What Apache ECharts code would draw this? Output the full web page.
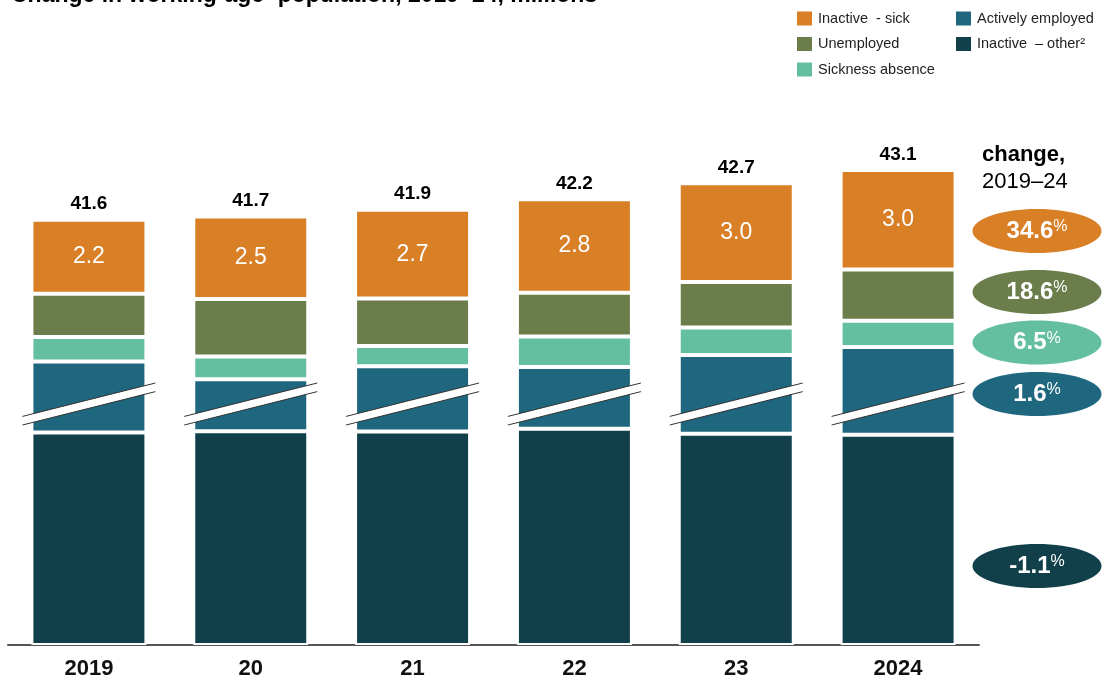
<!DOCTYPE html>
<html><head><meta charset="utf-8">
<script src="https://cdn.jsdelivr.net/npm/echarts@6/dist/echarts.min.js"></script>
<style>html,body{margin:0;padding:0;background:#fff}#c{width:1102px;height:682px}</style>
</head><body><div id="c"></div>
<script>
// ---- data ----
const years = ['2019', '20', '21', '22', '23', '2024'];
const inactiveSick = [2.23, 2.49, 2.68, 2.82, 2.98, 3.0];
const unemployed = [1.31, 1.74, 1.43, 1.32, 1.37, 1.55];
const sicknessAbsence = [0.74, 0.68, 0.61, 0.92, 0.83, 0.79];
const activelyEmployed = [30.91, 30.34, 30.74, 30.64, 31.15, 31.42];
const inactiveOther = [6.41, 6.45, 6.44, 6.52, 6.37, 6.34];
const changeLabels = ['34.6', '18.6', '6.5', '1.6', '-1.1'];
const seriesNames = ['Inactive  - sick', 'Unemployed', 'Sickness absence', 'Actively employed', 'Inactive  – other²'];
const breakStart = 7.27, breakEnd = 36.04;

// ---- styles ----
const C = { orange: '#D97F26', green: '#6A7D4B', teal: '#64BFA1', blue: '#1F677F', dark: '#11404B' };
const FONT = '"Liberation Sans", Arial, sans-serif';
const BW = 115;
const totals = years.map((_, i) => inactiveSick[i] + unemployed[i] + sicknessAbsence[i] + activelyEmployed[i] + inactiveOther[i]);

function barSeries(name, data, color, extra) {
  return Object.assign({
    name, type: 'bar', stack: 'pop', data, barWidth: BW,
    itemStyle: { color, borderColor: '#fff', borderWidth: 2 },
    emphasis: { disabled: true }
  }, extra || {});
}

const ellipseY = [231, 292, 342.5, 394, 566];
const ellipseColors = [C.orange, C.green, C.teal, C.blue, C.dark];
const graphics = [];
changeLabels.forEach((t, i) => {
  graphics.push({ type: 'ellipse', shape: { cx: 1037, cy: ellipseY[i], rx: 64.5, ry: 22 }, style: { fill: ellipseColors[i] }, silent: true });
  graphics.push({ type: 'text', x: 1037, y: ellipseY[i], silent: true, style: {
    text: '{n|' + t + '}{p|%}', align: 'center', verticalAlign: 'middle',
    rich: {
      n: { fontFamily: FONT, fontSize: 24, fontWeight: 'bold', fill: '#fff' },
      p: { fontFamily: FONT, fontSize: 16, fill: '#fff', verticalAlign: 'top' }
    }
  }});
});
graphics.push({ type: 'text', x: 982, y: 155, style: { text: 'change,', fontFamily: FONT, fontSize: 22, fontWeight: 'bold', fill: '#000', verticalAlign: 'middle' } });
graphics.push({ type: 'text', x: 982, y: 182, style: { text: '2019–24', fontFamily: FONT, fontSize: 22, fill: '#000', verticalAlign: 'middle' } });

const legendCommon = {
  orient: 'vertical', top: 11, padding: 0, itemWidth: 15, itemHeight: 14, itemGap: 10.5, icon: 'rect', selectedMode: false,
  itemStyle: { borderWidth: 0 },
  textStyle: { fontFamily: FONT, fontSize: 14.5, color: '#222', padding: [0, 0, 0, 1] }
};

const chart = echarts.init(document.getElementById('c'));
chart.setOption({
  animation: false,
  backgroundColor: '#fff',
  textStyle: { fontFamily: FONT },
  title: {
    left: 11, top: -16, padding: 0,
    text: '{b|Change in working-age}{s|1}{b| population}{r|, 2019–24, millions}',
    textStyle: { rich: {
      b: { fontFamily: FONT, fontSize: 23, fontWeight: 'bold', color: '#000' },
      s: { fontFamily: FONT, fontSize: 13, fontWeight: 'bold', color: '#000', verticalAlign: 'top' },
      r: { fontFamily: FONT, fontSize: 23, color: '#000' }
    } }
  },
  legend: [
    Object.assign({ data: seriesNames.slice(0, 3), left: 797 }, legendCommon),
    Object.assign({ data: seriesNames.slice(3), left: 956 }, legendCommon)
  ],
  grid: { left: 8, right: 123, top: 107, bottom: 37 },
  xAxis: {
    type: 'category', data: years,
    axisLine: { lineStyle: { color: '#555', width: 2 } },
    axisTick: { show: false },
    axisLabel: { fontFamily: FONT, fontSize: 22, fontWeight: 'bold', color: '#111', margin: 13 }
  },
  yAxis: {
    type: 'value', min: 0, max: 45,
    axisLine: { show: false }, axisTick: { show: false }, axisLabel: { show: false }, splitLine: { show: false },
    breaks: [{ start: breakStart, end: breakEnd, gap: 0 }],
    breakArea: { show: false }
  },
  graphic: graphics,
  series: [
    barSeries(seriesNames[4], inactiveOther, C.dark),
    barSeries(seriesNames[3], activelyEmployed, C.blue),
    barSeries(seriesNames[2], sicknessAbsence, C.teal),
    barSeries(seriesNames[1], unemployed, C.green),
    barSeries(seriesNames[0], inactiveSick, C.orange, {
      label: { show: true, position: 'inside', color: '#fff', fontFamily: FONT, fontSize: 23, formatter: p => p.value.toFixed(1) }
    }),
    {
      name: 'total', type: 'bar', stack: 'pop', barWidth: BW, data: years.map(() => 0),
      itemStyle: { color: 'rgba(0,0,0,0)', borderWidth: 0 },
      label: { show: true, position: 'top', distance: 6, color: '#000', fontFamily: FONT, fontSize: 19, fontWeight: 'bold',
        formatter: p => totals[p.dataIndex].toFixed(1) }
    },
    {
      type: 'custom', silent: true, z: 10,
      data: years.map((_, i) => [i, breakStart]),
      renderItem: (params, api) => {
        const p = api.coord([api.value(0), api.value(1)]);
        const half = 66.5, rise = 16.7, th = 4.3;
        const x1 = p[0] - half, x2 = p[0] + half;
        const y1 = p[1] + rise, y2 = p[1] - rise;
        return { type: 'group', children: [
          { type: 'polygon', shape: { points: [[x1, y1 - th], [x2, y2 - th], [x2, y2 + th], [x1, y1 + th]] }, style: { fill: '#fff' } },
          { type: 'line', shape: { x1: x1, y1: y1 - th, x2: x2, y2: y2 - th }, style: { stroke: '#333', lineWidth: 1 } },
          { type: 'line', shape: { x1: x1, y1: y1 + th, x2: x2, y2: y2 + th }, style: { stroke: '#333', lineWidth: 1 } }
        ] };
      }
    }
  ]
});
</script></body></html>
